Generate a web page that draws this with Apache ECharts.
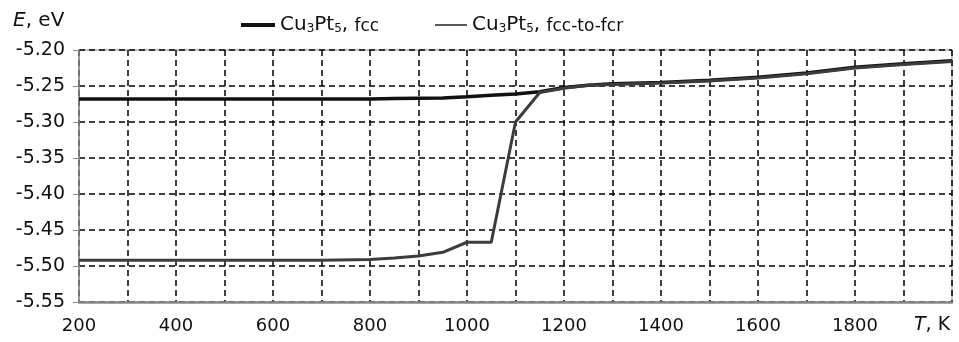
<!DOCTYPE html>
<html>
<head>
<meta charset="utf-8">
<script src="https://cdn.jsdelivr.net/npm/echarts@6/dist/echarts.min.js"></script>
<style>
  html, body { margin: 0; padding: 0; background: #fff; }
  #chart { width: 959px; height: 342px; }
</style>
</head>
<body>
<div id="chart"></div>
<script>
// temperatures, K
const temps = [200, 300, 400, 500, 600, 700, 800, 850, 900, 950, 1000, 1050, 1100, 1150, 1200, 1250, 1300, 1400, 1500, 1600, 1700, 1800, 1900, 2000]
// energy, eV
const fccVals = [-5.268, -5.268, -5.268, -5.268, -5.268, -5.268, -5.268, -5.2675, -5.267, -5.2665, -5.265, -5.263, -5.261, -5.258, -5.252, -5.249, -5.247, -5.245, -5.242, -5.238, -5.232, -5.224, -5.219, -5.215]
const fcrVals = [-5.492, -5.492, -5.492, -5.492, -5.492, -5.492, -5.491, -5.489, -5.486, -5.481, -5.467, -5.467, -5.300, -5.259, -5.253, -5.249, -5.248, -5.246, -5.243, -5.239, -5.233, -5.225, -5.220, -5.216]
const seriesNames = ['Cu3Pt5, fcc', 'Cu3Pt5, fcc-to-fcr']
const xLabels = ['200', '400', '600', '800', '1000', '1200', '1400', '1600', '1800']

const font = 'DejaVu Sans, sans-serif'
const chart = echarts.init(document.getElementById('chart'))

const legendRich = {
  base: { fontFamily: font, fontSize: 20, color: '#111' },
  sub: { fontFamily: font, fontSize: 12, color: '#111', verticalAlign: 'bottom', padding: [8, 0, 0, 0] },
  sm: { fontFamily: font, fontSize: 17, color: '#111', padding: [3, 0, 0, 0] }
}
const legendFormatter = name => {
  const tail = name.split(', ')[1]
  return '{base|Cu}{sub|3}{base|Pt}{sub|5}{base|, }{sm|' + tail + '}'
}

const option = {
  animation: false,
  grid: { left: 79, right: 7, top: 50, bottom: 40, show: true, borderColor: '#888', borderWidth: 1 },
  legend: [
    {
      data: [seriesNames[0]], left: 236, top: 10, icon: 'rect',
      itemWidth: 34, itemHeight: 4, itemGap: 8,
      formatter: legendFormatter, textStyle: { rich: legendRich }
    },
    {
      data: [seriesNames[1]], left: 430, top: 10, icon: 'rect',
      itemWidth: 32, itemHeight: 1.5, itemGap: 6,
      formatter: legendFormatter, textStyle: { rich: legendRich }
    }
  ],
  xAxis: {
    type: 'value', min: 200, max: 2000, interval: 100,
    axisLine: { lineStyle: { color: '#888', width: 2.5 } },
    axisTick: { show: false },
    axisLabel: {
      margin: 15, fontFamily: font, fontSize: 18, color: '#111',
      formatter: v => xLabels.includes(String(v)) ? String(v) : ''
    },
    splitLine: { lineStyle: { color: '#000', type: [6, 4], width: 1.5 } }
  },
  yAxis: {
    type: 'value', min: -5.55, max: -5.20, interval: 0.05,
    axisLine: { show: true, lineStyle: { color: '#888', width: 1.5 } },
    axisTick: { show: true, length: 6, lineStyle: { color: '#888' } },
    axisLabel: {
      margin: 14, fontFamily: font, fontSize: 19, color: '#111',
      formatter: v => v.toFixed(2)
    },
    splitLine: { lineStyle: { color: '#000', type: [6, 4], width: 1.5 } }
  },
  graphic: [
    {
      type: 'text', left: 13, top: 11,
      style: {
        text: '{i|E}{n|, eV}',
        rich: {
          i: { fontFamily: font, fontSize: 20, fontStyle: 'italic', fill: '#111' },
          n: { fontFamily: font, fontSize: 20, fill: '#111' }
        }
      }
    },
    {
      type: 'text', left: 914, top: 316,
      style: {
        text: '{i|T}{n|, K}',
        rich: {
          i: { fontFamily: font, fontSize: 19, fontStyle: 'italic', fill: '#111' },
          n: { fontFamily: font, fontSize: 19, fill: '#111' }
        }
      }
    }
  ],
  series: [
    {
      name: seriesNames[0], type: 'line', showSymbol: false,
      data: temps.map((t, i) => [t, fccVals[i]]),
      lineStyle: { color: '#111', width: 3.5 },
      itemStyle: { color: '#111' }
    },
    {
      name: seriesNames[1], type: 'line', showSymbol: false,
      data: temps.map((t, i) => [t, fcrVals[i]]),
      lineStyle: { color: '#3c3c3c', width: 3 },
      itemStyle: { color: '#222' }
    }
  ]
}

chart.setOption(option)
</script>
</body>
</html>
